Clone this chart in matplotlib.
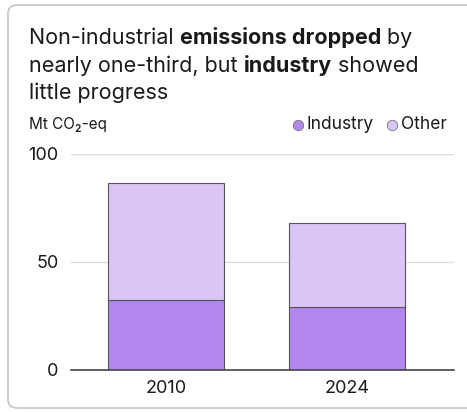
import matplotlib.pyplot as plt
from matplotlib.patches import FancyBboxPatch

# Data (Mt CO2-eq)
years = ["2010", "2024"]
industry = [32.4, 29.3]
other = [54.0, 38.6]
y_ticks = [0, 50, 100]

industry_color = "#b388ee"
other_color = "#d9c5f6"
edge_color = "#555555"
text_color = "#1a1a1a"

plt.rcParams["font.family"] = ["Inter", "DejaVu Sans"]

fig = plt.figure(figsize=(4.67, 4.12), dpi=100)
W, H = 467, 412

# Rounded card border, running off the right edge
card = FancyBboxPatch((8 / W, 1 - 408 / H), 1.2, (408 - 5) / H,
                      boxstyle="round,pad=0,rounding_size=0.02",
                      transform=fig.transFigure, facecolor="none",
                      edgecolor="#bbbbbb", linewidth=1.0, zorder=0)
fig.patches.append(card)

ax = fig.add_axes([71 / W, 1 - 370 / H, (454 - 71) / W, (370 - 154) / H])
x = [0, 1]
ax.bar(x, industry, width=0.64, color=industry_color, edgecolor=edge_color,
       linewidth=0.8, zorder=3)
ax.bar(x, other, bottom=industry, width=0.64, color=other_color,
       edgecolor=edge_color, linewidth=0.8, zorder=3)

ax.set_xlim(-0.525, 1.591)
ax.set_ylim(0, 100)
ax.set_yticks(y_ticks)
ax.set_xticks(x)
ax.set_xticklabels(years)
ax.tick_params(axis="both", length=0, labelsize=13, colors=text_color)
ax.tick_params(axis="y", pad=9)
ax.tick_params(axis="x", pad=7)
for v in y_ticks[1:]:
    ax.axhline(v, color="#dddddd", linewidth=1.0, zorder=1)
for s in ["top", "right", "left"]:
    ax.spines[s].set_visible(False)
ax.spines["bottom"].set_color("#444444")
ax.spines["bottom"].set_linewidth(1.2)
ax.spines["bottom"].set_zorder(4)


def rich_line(x0, y0, runs, size):
    """Draw a line of text made of (string, weight) runs, left to right."""
    renderer = fig.canvas.get_renderer()
    xpos = x0
    for s, weight in runs:
        t = fig.text(xpos, y0, s, fontsize=size, fontweight=weight,
                     color=text_color, va="baseline", ha="left")
        bb = t.get_window_extent(renderer=renderer)
        xpos += bb.width / W


title_lines = [
    [("Non-industrial ", "normal"), ("emissions dropped", "bold"), (" by", "normal")],
    [("nearly one-third, but ", "normal"), ("industry", "bold"), (" showed", "normal")],
    [("little progress", "normal")],
]
for i, runs in enumerate(title_lines):
    rich_line(29 / W, 1 - (44 + 27.5 * i) / H, runs, 15.5)

fig.text(29 / W, 1 - 129 / H, "Mt CO\u2082-eq", fontsize=11, color=text_color,
         va="baseline")

# Legend
legend_items = [("Industry", industry_color, 298), ("Other", other_color, 392)]
for label, color, px in legend_items:
    fig.add_artist(plt.Line2D([px / W], [1 - 124.5 / H], marker="o",
                              markersize=7.5, markerfacecolor=color,
                              markeredgecolor="#777777", markeredgewidth=0.6,
                              transform=fig.transFigure))
    fig.text((px + 9) / W, 1 - 129 / H, label, fontsize=12.5,
             color=text_color, va="baseline")

fig.savefig("out.png", dpi=100)
